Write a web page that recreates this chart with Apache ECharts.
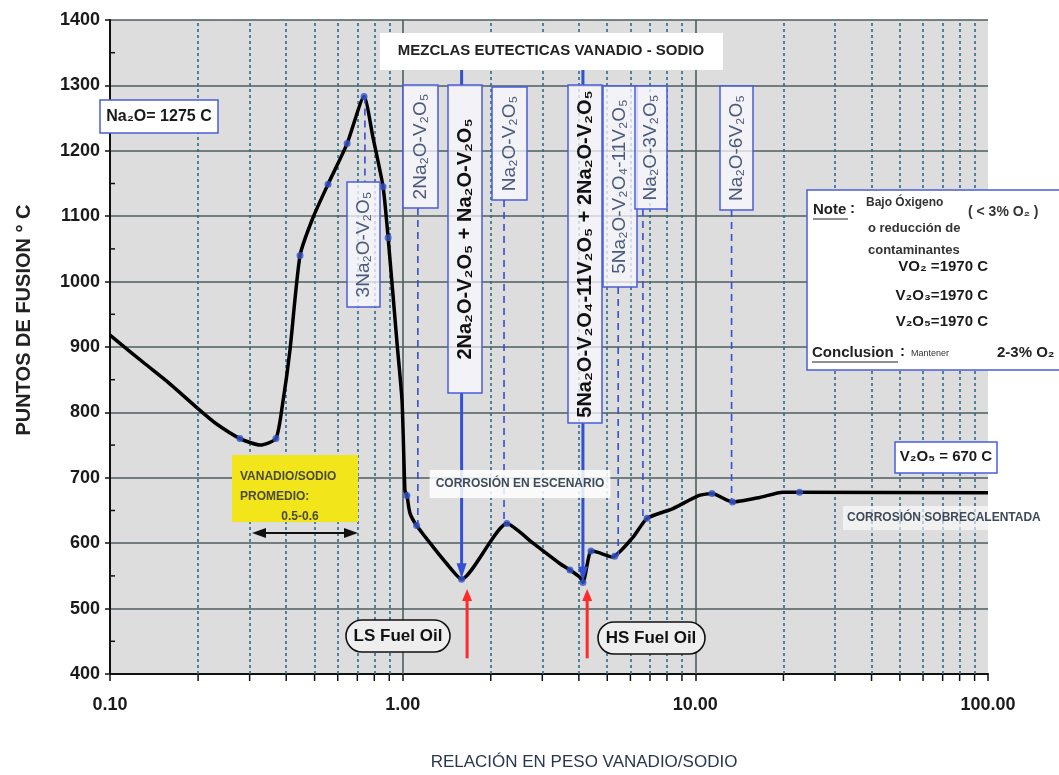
<!DOCTYPE html>
<html><head><meta charset="utf-8">
<script src="https://cdn.jsdelivr.net/npm/echarts@6/dist/echarts.min.js"></script>
<style>html,body{margin:0;padding:0;background:#fff}#c{width:1059px;height:775px}</style>
</head><body><div id="c"></div>
<script>
// ---------------- DATA ----------------
const curveX = [0.1, 0.132, 0.157, 0.203, 0.23, 0.278, 0.326, 0.369, 0.39, 0.412, 0.446, 0.494, 0.556, 0.646, 0.738, 0.792, 0.857, 0.892, 0.957, 0.995, 1.018, 1.034, 1.059, 1.116, 1.272, 1.413, 1.59, 2.27, 2.79, 3.44, 3.73, 4.03, 4.13, 4.40, 4.65, 5.2, 6.12, 6.84, 8.39, 10.3, 11.4, 13.4, 16.6, 19.9, 22.7, 100];
const curveY = [918, 874, 847, 803, 783, 760, 750, 760, 817, 895, 1040, 1098, 1149, 1211, 1283, 1220, 1145, 1067, 905, 818, 681, 673, 646, 627, 594, 569, 545, 630, 600, 569, 559, 548, 540, 588, 586, 579, 609, 638, 653, 673, 676, 663, 670, 678, 678, 677];
const dotX = [0.278, 0.369, 0.446, 0.556, 0.646, 0.738, 0.857, 0.892, 1.034, 1.116, 1.59, 2.27, 3.73, 4.13, 4.40, 5.3, 6.84, 11.4, 13.4, 22.7];
const dotY = [760, 760, 1040, 1149, 1211, 1283, 1145, 1067, 673, 627, 545, 630, 559, 540, 588, 580, 638, 676, 663, 678];
const compoundNames = ['3Na₂O-V₂O₅', '2Na₂O-V₂O₅', '2Na₂O-V₂O₅ + Na₂O-V₂O₅', 'Na₂O-V₂O₅', '5Na₂O-V₂O₄-11V₂O₅ + 2Na₂O-V₂O₅', '5Na₂O-V₂O₄-11V₂O₅', 'Na₂O-3V₂O₅', 'Na₂O-6V₂O₅'];
const compoundX = [0.743, 1.127, 1.59, 2.22, 4.13, 5.45, 6.62, 13.3];
const compoundTemp = [1283, 627, 545, 630, 540, 580, 638, 663];
const minorGridX = [0.2, 0.3, 0.4, 0.5, 0.6, 0.7, 0.8, 0.9, 2, 3, 4, 5, 6, 7, 8, 9, 20, 30, 40, 50, 60, 70, 80, 90];
const majorGridX = [1, 10];
const xTickLabels = ['0.10', '1.00', '10.00', '100.00'];
const yMinorTicks = [450, 550, 650, 750, 850, 950, 1050, 1150, 1250, 1350];
const fuelNames = ['LS Fuel Oil', 'HS Fuel Oil'];
const fuelX = [1.66, 4.27];
const titleText = 'MEZCLAS EUTECTICAS VANADIO - SODIO';
const xAxisName = 'RELACIÓN EN PESO VANADIO/SODIO';
const yAxisName = 'PUNTOS DE FUSION ° C';

// ---------------- LAYOUT ----------------
const compoundBoxes = [
  {cx: 363.5, top: 182, bottom: 307, w: 33, bold: false, up: true},
  {cx: 420.5, top: 85, bottom: 208, w: 35},
  {cx: 465, top: 85, bottom: 393, w: 34, bold: true},
  {cx: 509.5, top: 87, bottom: 200, w: 35},
  {cx: 585, top: 85, bottom: 423, w: 34, bold: true},
  {cx: 620, top: 86, bottom: 287, w: 34},
  {cx: 651, top: 86, bottom: 209, w: 32},
  {cx: 736.5, top: 86, bottom: 210, w: 33}
];
const BLUE = '#4a5ed8';
const GRIDLINE = '#4e5d60';
const FONT = '"Liberation Sans", Arial, sans-serif';

const chart = echarts.init(document.getElementById('c'));
const option = {
  animation: false,
  backgroundColor: '#ffffff',
  grid: {left: 110, right: 71, top: 20, bottom: 101, show: true, backgroundColor: '#dddddd', borderWidth: 0},
  xAxis: {
    type: 'log', logBase: 10, min: 0.1, max: 100,
    axisLine: {lineStyle: {color: '#111', width: 2}},
    axisTick: {show: true, length: 7, lineStyle: {color: '#111', width: 1.5}},
    axisLabel: {
      margin: 22, fontSize: 18, fontWeight: 'bold', color: '#1a1a1a', fontFamily: FONT,
      formatter: function (v) { const i = Math.round(Math.log10(v)) + 1; return xTickLabels[i] || ''; }
    },
    splitLine: {show: false}
  },
  yAxis: {
    type: 'value', min: 400, max: 1400, interval: 100,
    axisLine: {show: true, lineStyle: {color: '#111', width: 2}},
    axisTick: {show: true, length: 5, lineStyle: {color: '#111', width: 1.5}},
    axisLabel: {margin: 10, fontSize: 18, fontWeight: 'bold', color: '#1a1a1a', fontFamily: FONT,
      formatter: function (v) { return String(v); }},
    splitLine: {show: true, lineStyle: {color: GRIDLINE, width: 1.5}}
  },
  series: [
    {
      type: 'line', data: [], silent: true,
      markLine: {
        silent: true, symbol: ['none', 'none'], label: {show: false},
        lineStyle: {type: [3, 3], color: '#2d6a8a', width: 1.6},
        data: minorGridX.map(x => ({xAxis: x})).concat(
          majorGridX.map(x => ({xAxis: x, lineStyle: {type: 'solid', color: GRIDLINE, width: 1.6}})))
      }
    },
    {
      type: 'line', z: 5,
      data: curveX.map((x, i) => [x, curveY[i]]),
      smooth: 0.2, symbol: 'none',
      lineStyle: {color: '#000', width: 3.5}
    },
    {
      type: 'scatter', z: 6,
      data: dotX.map((x, i) => [x, dotY[i]]),
      symbolSize: 7, itemStyle: {color: '#3652c8'}
    }
  ]
};
chart.setOption(option);

function px(x, y) { return chart.convertToPixel({gridIndex: 0}, [x, y]); }
const g = [];
const Z = 20;
function txt(x, y, text, font, fill, align, rot, extra) {
  const o = {type: 'text', x: x, y: y, rotation: rot || 0, z: Z + 2,
    style: Object.assign({text: text, font: font, fill: fill, textAlign: align || 'center', textVerticalAlign: 'middle'}, extra || {})};
  g.push(o);
}
function rect(x, y, w, h, fill, stroke, lw, r, z) {
  g.push({type: 'rect', z: z || Z, shape: {x: x, y: y, width: w, height: h, r: r || 0},
    style: {fill: fill, stroke: stroke || null, lineWidth: lw || 0}});
}
function line(x1, y1, x2, y2, stroke, lw, dash, z) {
  g.push({type: 'line', z: z || Z, shape: {x1: x1, y1: y1, x2: x2, y2: y2},
    style: {stroke: stroke, lineWidth: lw, lineDash: dash || null}});
}
function tri(pts, fill, z) { g.push({type: 'polygon', z: z || Z + 1, shape: {points: pts}, style: {fill: fill}}); }

// x minor ticks below axis, y minor ticks inside
minorGridX.forEach(x => { const p = px(x, 400); line(p[0], p[1], p[0], p[1] + 7, '#111', 1.5, null, 4); });
yMinorTicks.forEach(v => { const p = px(0.1, v); line(p[0], p[1], p[0] + 5, p[1], '#111', 1.5, null, 4); });

// title box
rect(380, 33, 343, 37, '#ffffff');
txt(551, 51, titleText, 'bold 15px ' + FONT, '#222');

// compound boxes & lines
compoundNames.forEach((name, i) => {
  const b = compoundBoxes[i];
  const p = px(compoundX[i], compoundTemp[i]);
  if (b.up) {
    line(p[0], p[1], p[0], b.top, '#3350d0', 1.6, [7, 5], Z - 1);
  } else if (b.bold) {
    line(p[0], b.bottom, p[0], p[1] - 10, '#3350d0', 3, null, Z - 1);
    line(p[0], 70, p[0], b.top, '#3350d0', 3, null, Z - 1);
    tri([[p[0] - 5, p[1] - 16], [p[0] + 5, p[1] - 16], [p[0], p[1] - 1]], '#3350d0');
  } else {
    line(p[0], b.bottom, p[0], p[1], '#3350d0', 1.6, [7, 5], Z - 1);
  }
  rect(b.cx - b.w / 2, b.top, b.w, b.bottom - b.top, 'rgba(250,250,255,0.75)', BLUE, 1.5);
  txt(b.cx, (b.top + b.bottom) / 2, name,
    b.bold ? 'bold 20px ' + FONT : '19px ' + FONT, b.bold ? '#111' : '#4b5a7a', 'center', Math.PI / 2);
});

// Corrosion en escenario
txt(520, 484, 'CORROSIÓN EN ESCENARIO', 'bold 12px ' + FONT, '#3d4a5a', 'center', 0,
  {backgroundColor: 'rgba(255,255,255,0.85)', padding: [8, 6]});

// Red arrows + fuel pills
fuelX.forEach((x, i) => {
  const pb = px(x, 424), pt = px(x, 530);
  line(pb[0], pb[1], pb[0], pt[1] + 8, '#ff2a2a', 3, null, Z + 1);
  tri([[pt[0] - 5, pt[1] + 12], [pt[0] + 5, pt[1] + 12], [pt[0], pt[1]]], '#ff2a2a');
});
rect(346, 620, 104, 32, '#eeeeee', '#111', 1.6, 16);
txt(398, 636, fuelNames[0], 'bold 17px ' + FONT, '#111');
rect(598, 622, 107, 32, '#eeeeee', '#111', 1.6, 16);
txt(651, 638, fuelNames[1], 'bold 17px ' + FONT, '#111');

// Yellow box
rect(232, 455, 126, 67, '#f2e61a');
txt(240, 477, 'VANADIO/SODIO', 'bold 12px ' + FONT, '#4a4a3a', 'left');
txt(240, 497, 'PROMEDIO:', 'bold 12px ' + FONT, '#4a4a3a', 'left');
txt(300, 517, '0.5-0.6', 'bold 12px ' + FONT, '#4a4a3a', 'center');
line(262, 533, 348, 533, '#111', 2);
tri([[252, 533], [266, 528], [266, 538]], '#111');
tri([[358, 533], [344, 528], [344, 538]], '#111');

// Na2O box
rect(100, 100, 118, 33, '#ffffff', BLUE, 1.5);
txt(159, 117, 'Na₂O= 1275 C', 'bold 16px ' + FONT, '#1a1a1a');

// Note box
rect(807, 190, 260, 180, '#ffffff', BLUE, 1.5);
txt(813, 210, 'Note', 'bold 15px ' + FONT, '#222', 'left');
line(813, 219, 848, 219, '#222', 1.2);
txt(850, 209, ':', 'bold 15px ' + FONT, '#222', 'left');
txt(866, 203, 'Bajo Óxigeno', 'bold 12px ' + FONT, '#333', 'left');
txt(968, 212, '( < 3% O₂ )', 'bold 14px ' + FONT, '#333', 'left');
txt(868, 228, 'o reducción de', 'bold 13px ' + FONT, '#333', 'left');
txt(868, 250, 'contaminantes', 'bold 13px ' + FONT, '#333', 'left');
txt(988, 267, 'VO₂ =1970 C', 'bold 15px ' + FONT, '#1a1a1a', 'right');
txt(988, 296, 'V₂O₃=1970 C', 'bold 15px ' + FONT, '#1a1a1a', 'right');
txt(988, 322, 'V₂O₅=1970 C', 'bold 15px ' + FONT, '#1a1a1a', 'right');
txt(812, 353, 'Conclusion', 'bold 15px ' + FONT, '#222', 'left');
line(812, 362, 898, 362, '#222', 1.2);
txt(900, 352, ':', 'bold 15px ' + FONT, '#222', 'left');
txt(911, 354, 'Mantener', '9px ' + FONT, '#333', 'left');
txt(997, 353, '2-3% O₂', 'bold 15px ' + FONT, '#222', 'left');

// V2O5 box
rect(895, 442, 102, 31, '#ffffff', BLUE, 1.5);
txt(946, 457, 'V₂O₅ = 670 C', 'bold 15px ' + FONT, '#1a1a1a');

// Corrosion sobrecalentada
txt(843, 518, 'CORROSIÓN SOBRECALENTADA', 'bold 12px ' + FONT, '#3d4a5a', 'left', 0,
  {backgroundColor: 'rgba(255,255,255,0.6)', padding: [6, 4]});

// axis names
txt(24, 320, yAxisName, 'bold 20px ' + FONT, '#222', 'center', Math.PI / 2);
txt(584, 762, xAxisName, '17px ' + FONT, '#2a3550', 'center');

chart.setOption({graphic: {elements: g}});
</script>
</body></html>
